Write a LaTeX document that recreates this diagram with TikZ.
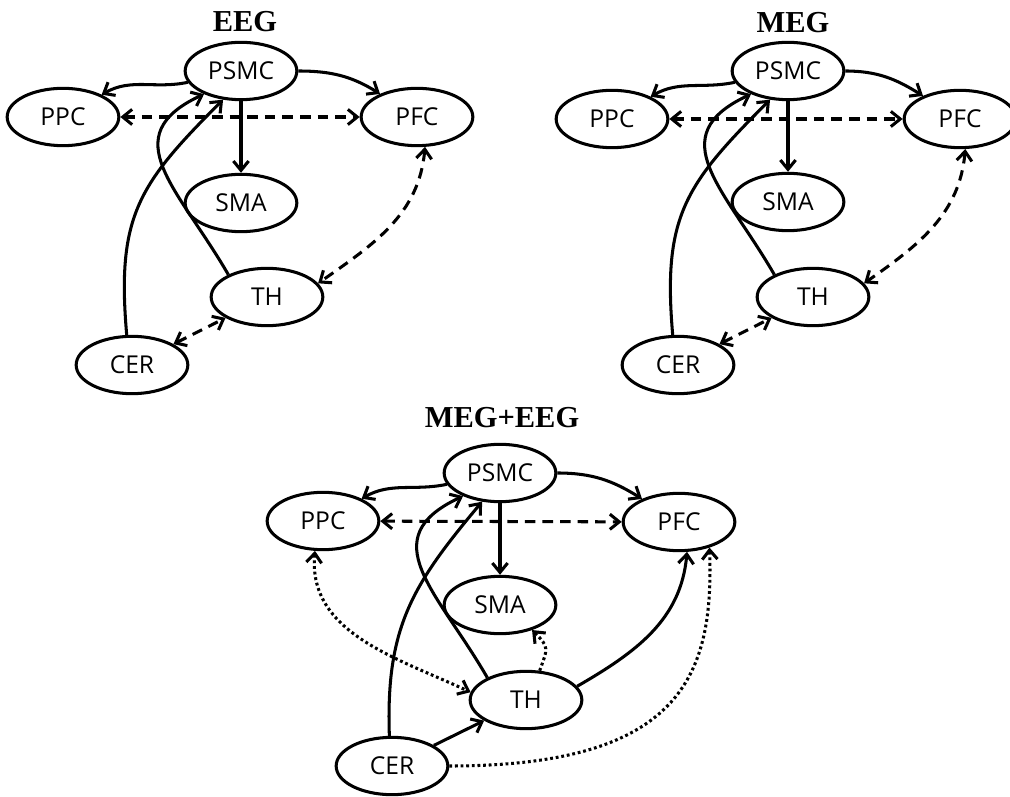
\documentclass[tikz,border=0pt]{standalone}
\usepackage{fontspec}
\setmainfont{Liberation Serif}
\setsansfont{Open Sans}
\usetikzlibrary{shapes.geometric,arrows.meta}

\begin{document}
\begin{tikzpicture}[x=0.03cm,y=-0.03cm,
    region/.style={ellipse,draw,line width=2.6pt,minimum width=3.35cm,minimum height=1.72cm,inner sep=0pt,font=\sffamily\fontsize{21}{24}\selectfont},
    heading/.style={font=\bfseries\fontsize{26}{28}\selectfont},
    link/.style={line width=2.6pt,-{Straight Barb[length=8pt,width=13pt]}},
    twoway/.style={line width=2.6pt,{Straight Barb[length=8pt,width=13pt]}-{Straight Barb[length=8pt,width=13pt]}},
    dashedlink/.style={twoway,dash pattern=on 9pt off 6pt},
    dotted/.style={dash pattern=on 2.4pt off 2.4pt}]
  \useasboundingbox (0,0) rectangle (1010,797);
  \draw
    (245,22) node[heading] (eT){EEG}
    (241,71) node[region] (ePSMC){PSMC}
    (63,117) node[region] (ePPC){PPC}
    (417,117) node[region] (ePFC){PFC}
    (241,203) node[region] (eSMA){SMA}
    (267,297) node[region] (eTH){TH}
    (132,365) node[region] (eCER){CER};
  \draw
    (793,23) node[heading] (mT){MEG}
    (788,71) node[region] (mPSMC){PSMC}
    (612,119) node[region] (mPPC){PPC}
    (960,119) node[region] (mPFC){PFC}
    (788,202) node[region] (mSMA){SMA}
    (813,297) node[region] (mTH){TH}
    (678,365) node[region] (mCER){CER};
  \draw
    (502,418) node[heading] (bT){MEG+EEG}
    (500,473) node[region] (bPSMC){PSMC}
    (323,521) node[region] (bPPC){PPC}
    (679,522) node[region] (bPFC){PFC}
    (500,605) node[region] (bSMA){SMA}
    (526,700) node[region] (bTH){TH}
    (392,766) node[region] (bCER){CER};
  \begin{scope}[link]
    \draw (ePSMC) to[out=192,in=30] (ePPC);
    \draw (ePSMC) to[out=0,in=148] (ePFC);
    \draw (ePSMC) -- (eSMA);
    \draw (eTH.150) to[out=120,in=205,looseness=1.4] (ePSMC.212);
    \draw (eCER.100) to[out=95,in=225,looseness=1.2] (ePSMC.238);
    \draw (mPSMC) to[out=192,in=30] (mPPC);
    \draw (mPSMC) to[out=0,in=148] (mPFC);
    \draw (mPSMC) -- (mSMA);
    \draw (mTH.150) to[out=120,in=205,looseness=1.4] (mPSMC.212);
    \draw (mCER.100) to[out=95,in=225,looseness=1.2] (mPSMC.238);
    \draw (bPSMC) to[out=192,in=30] (bPPC);
    \draw (bPSMC) to[out=0,in=148] (bPFC);
    \draw (bPSMC) -- (bSMA);
    \draw (bTH.150) to[out=120,in=205,looseness=1.4] (bPSMC.212);
    \draw (bCER.95) to[out=92,in=230,looseness=1.1] (bPSMC.238);
    \draw (bTH.15) to[out=30,in=-95] (bPFC.-75);
    \draw (bCER) -- (bTH);
  \end{scope}
  \begin{scope}[dashedlink]
    \draw (ePPC) -- (ePFC);
    \draw (ePFC.-75) to[out=-95,in=35] (eTH.15);
    \draw (eCER) -- (eTH);
    \draw (mPPC) -- (mPFC);
    \draw (mPFC.-80) to[out=-95,in=35] (mTH.15);
    \draw (mCER) -- (mTH);
    \draw (bPPC) -- (bPFC);
  \end{scope}
  \begin{scope}[dotted]
    \draw[twoway] (bPPC.-105) to[out=-95,in=155] (bTH.172);
    \draw[link] (bTH.65) to[out=70,in=-45,looseness=1.5] (bSMA.-38);
    \draw[link] (bCER.0) to[out=0,in=-88,out distance=7cm,in distance=3.8cm] (bPFC.-40);
  \end{scope}
\end{tikzpicture}
\end{document}
